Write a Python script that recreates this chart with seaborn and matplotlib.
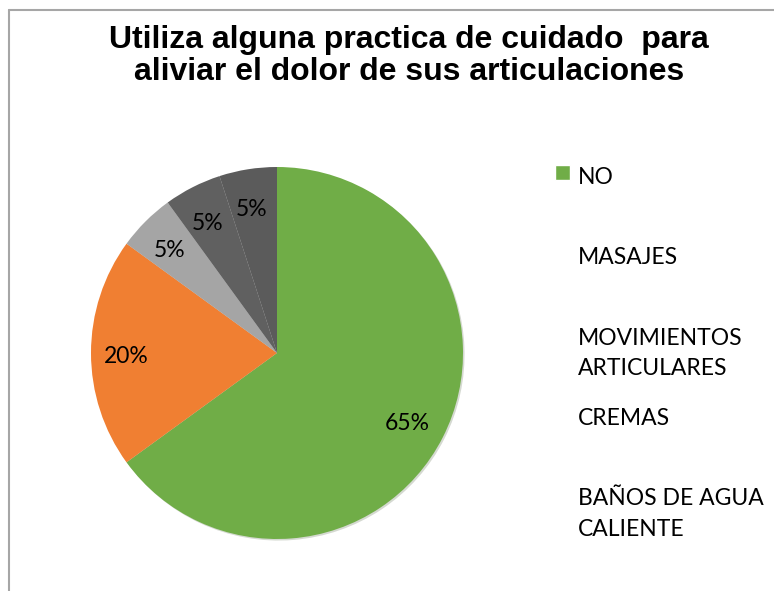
import matplotlib
matplotlib.use("Agg")
import matplotlib.pyplot as plt
import seaborn as sns
from matplotlib.patches import Patch, Rectangle
from matplotlib.legend_handler import HandlerPatch
from matplotlib.lines import Line2D
from matplotlib.transforms import ScaledTranslation

# data
categorias = ["NO", "MASAJES", "MOVIMIENTOS\nARTICULARES", "CREMAS", "BAÑOS DE AGUA\nCALIENTE"]
porcentajes = [65, 20, 5, 5, 5]
colores = ["#70ad47", "#f07f32", "#a5a5a5", "#606060", "#5b5b5b"]
titulo = "Utiliza alguna practica de cuidado  para\naliviar el dolor de sus articulaciones"

sns.set_style("white")
plt.rcParams['font.family'] = ['Lato', 'DejaVu Sans']

fig = plt.figure(figsize=(7.74, 5.91), dpi=100)

# pie axes placed so the circle (r ~186 px) sits where the reference has it
lim = 1.03
size = 372 * lim
ax = fig.add_axes([(277 - size / 2) / 774, (591 - 353 - size / 2) / 591, size / 774, size / 591])
wedges, texts, autotexts = ax.pie(
    porcentajes, colors=colores, startangle=90, counterclock=False,
    autopct=lambda p: f"{p:.0f}%", pctdistance=0.8,
    shadow=dict(ox=0.006, oy=-0.006, shade=0.6, alpha=0.2),
    wedgeprops=dict(linewidth=0),
    textprops=dict(fontsize=16.5, color="black"))
ax.set_aspect("equal")
ax.set_xlim(-lim, lim)
ax.set_ylim(-lim, lim)
ax.axis("off")

# nudge the percentage labels down a little, like the reference
shift = ScaledTranslation(-2 / 100, -3 / 100, fig.dpi_scale_trans)
for t in autotexts:
    t.set_transform(t.get_transform() + shift)

# title
fig.text(409 / 774, 1 - 25 / 591, titulo, ha="center", va="top", color="black",
         fontsize=23, fontweight="bold", family=["Liberation Sans", "DejaVu Sans"],
         linespacing=1.07)

# legend: only the first entry shows a colour box
def top_square(legend, orig_handle, xdescent, ydescent, width, height, fontsize):
    s = 0.65 * fontsize
    return Rectangle((width - xdescent - s, height - ydescent - 0.235 * fontsize), s, s)

handles = [Patch(facecolor=colores[0])] + [Patch(facecolor="none", edgecolor="none") for _ in categorias[1:]]
labels = [c if "\n" in c else c + "\n " for c in categorias]
leg = fig.legend(handles, labels, loc="upper left", bbox_to_anchor=(534 / 774, 1 - 146 / 591),
                 frameon=False, fontsize=16.5, handlelength=0.65, handleheight=2.2,
                 handletextpad=0.35, labelspacing=1.27,
                 handler_map={Patch: HandlerPatch(patch_func=top_square)})
for t in leg.get_texts():
    t.set_linespacing(1.55)
    t.set_color("black")

# chart-area frame (left and top edges visible)
fig.add_artist(Line2D([9 / 774, 9 / 774], [0, 1 - 9.5 / 591], color="#a6a6a6", lw=1.5))
fig.add_artist(Line2D([9 / 774, 1], [1 - 9.5 / 591, 1 - 9.5 / 591], color="#a6a6a6", lw=1.5))

fig.savefig("out.png", dpi=100)
